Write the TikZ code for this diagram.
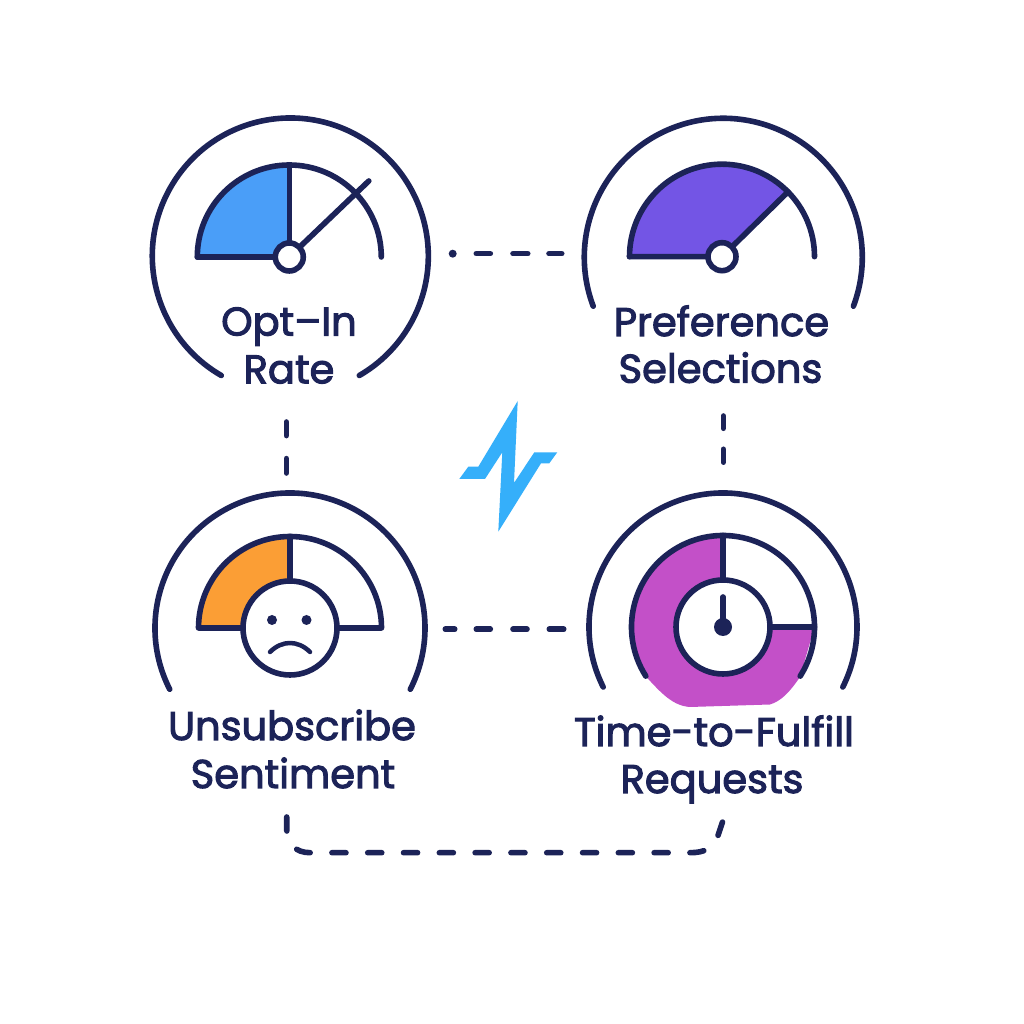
\documentclass[tikz,border=0pt]{standalone}
\usepackage{fontspec}
\setmainfont[FakeBold=2.6]{Poppins}
\definecolor{ink}{HTML}{1C2358}
\definecolor{cblue}{HTML}{4A9EF8}
\definecolor{cpurple}{HTML}{7355E5}
\definecolor{corange}{HTML}{FB9E35}
\definecolor{cmagenta}{HTML}{C350C8}
\definecolor{cbolt}{HTML}{35AFFA}
\tikzset{
  line/.style={draw=ink,line width=5.6pt,line cap=round,line join=round},
  link/.style={draw=ink,line width=5.6pt,line cap=round},
  lab/.style={anchor=base,text=ink,inner sep=0pt,font=\fontsize{40}{40}\selectfont},
  hubdot/.style={circle,draw=ink,line width=5.6pt,fill=white,inner sep=0pt},
}
\begin{document}
\begin{tikzpicture}[x=1pt,y=1pt]
\useasboundingbox (0,0) rectangle (1024,1024);
\fill[white] (0,0) rectangle (1024,1024);
% free ends of connectors
\coordinate (t1) at (452.7,770.3); \coordinate (t2) at (561.7,770.3);
\coordinate (l1) at (286.3,602); \coordinate (l2) at (286.3,551);
\coordinate (r1) at (723.3,608); \coordinate (r2) at (723.3,561.7);
\coordinate (m1) at (445.3,394.7); \coordinate (m2) at (563.7,394.7);
\coordinate (b1) at (286.7,207); \coordinate (b2) at (722.5,202);
% Gauge 1
\begin{scope}[shift={(289.3,767)}]
  \fill[cblue] (-92,0) arc[start angle=180,end angle=90,radius=92pt] -- (0,0) -- cycle;
  \draw[line] (-92,0) arc[start angle=180,end angle=0,radius=92pt];
  \draw[line] (-92,0) -- (0,0) -- (0,92);
  \draw[line] (0,0) -- (79.5,76);
  \node[hubdot,minimum size=28pt] (hub1) at (0,0) {};
  \draw[line] (240:138) ++(1,1) arc[start angle=240,end angle=-60,radius=138pt];
\end{scope}
% Gauge 2
\begin{scope}[shift={(722,767.3)}]
  \fill[cpurple] (-92.5,0) arc[start angle=180,end angle=44.5,radius=92.5pt] -- (0,0) -- cycle;
  \draw[line] (-92.5,0) arc[start angle=180,end angle=0,radius=92.5pt];
  \draw[line] (-92.5,0) -- (0,0) -- (44.5:92.5);
  \node[hubdot,minimum size=28pt] (hub2) at (0,0) {};
  \draw[line] (1.3,-0.6) ++(200.6:139) arc[start angle=200.6,end angle=-20.6,radius=139pt];
\end{scope}
% Gauge 3
\begin{scope}[shift={(290,396)}]
  \fill[corange] (-91.5,0) arc[start angle=180,end angle=90,radius=91.5pt] -- (0,0) -- cycle;
  \draw[line] (-91.5,0) arc[start angle=180,end angle=0,radius=91.5pt] -- cycle;
  \draw[line] (0,0) -- (0,91.5);
  \node[hubdot,minimum size=94pt] (face) at (0,0) {};
  \fill[ink] (-18,8) circle[radius=5pt] (16.5,8) circle[radius=5pt];
  \draw[line,line width=4.5pt] (-20,-24) .. controls (-8,-12) and (8,-12) .. (20,-24);
  \draw[line] (207:135) arc[start angle=207,end angle=-27,radius=135pt];
\end{scope}
% Gauge 4
\begin{scope}[shift={(723,397)}]
  \fill[cmagenta] (0,91.5)
    arc[start angle=90,end angle=213,radius=91.5pt]
    .. controls (-62,-66) and (-50,-79) .. (-33,-80)
    -- (47,-77.5) .. controls (58,-74) and (66,-66) .. (77,-50)
    -- (91.5,0) -- (0,0) -- cycle;
  \draw[line] (212.5:91.5) arc[start angle=212.5,end angle=-32.5,radius=91.5pt];
  \draw[line] (0,0) -- (0,91.5) (0,0) -- (91.5,0);
  \node[hubdot,minimum size=94pt] (dial) at (0,0) {};
  \fill[ink] (0,0) circle[radius=9pt];
  \draw[line] (0,0) -- (0,30);
  \draw[line] (206.6:134) arc[start angle=206.6,end angle=-26.6,radius=134pt];
\end{scope}
% Bolt
\fill[cbolt] (517.7,623) -- (514,541) -- (534.3,571.7) -- (557.3,571.7) -- (549.3,560.7) -- (541,560.7)
  -- (498.3,492.3) -- (502.3,571.7) -- (485,545) -- (459.3,545) -- (468.3,557.3) -- (478.3,557.3) -- cycle;
% Labels
\node[lab] (a1) at (289,688.5) {Opt–In};
\node[lab] (a2) at (289,640.7) {Rate};
\node[lab] (b3) at (721.5,688) {Preference};
\node[lab] (b4) at (720.5,641.3) {Selections};
\node[lab] (c1) at (292,284) {Unsubscribe};
\node[lab] (c2) at (293,236) {Sentiment};
\node[lab] (d1) at (714,278) {Time-to-Fulfill};
\node[lab] (d2) at (712,231) {Requests};
% Connectors
\fill[ink] (t1) circle[radius=4pt];
\draw[link,dash pattern=on 0pt off 23.6pt on 14pt off 22.7pt on 14.7pt off 21.3pt on 12.7pt off 50pt] (t1) -- (t2);
\draw[link,dash pattern=on 9.4pt off 21.6pt on 14pt off 22.7pt on 14pt off 22.3pt on 14.4pt off 50pt] (m1) -- (m2);
\draw[link,dash pattern=on 13.6pt off 23pt on 14.6pt off 50pt] (l1) -- (l2);
\draw[link,dash pattern=on 12.3pt off 21pt on 12.9pt off 50pt] (r1) -- (r2);
\draw[link,dash pattern=on 14pt off 21.8pt] (b1) -- (286.7,194) .. controls (286.7,180) and (296,171.3) .. (310,171.3) -- (690,171.3) .. controls (705,171.3) and (713,176) .. (717.5,187) -- (b2);
\end{tikzpicture}
\end{document}
